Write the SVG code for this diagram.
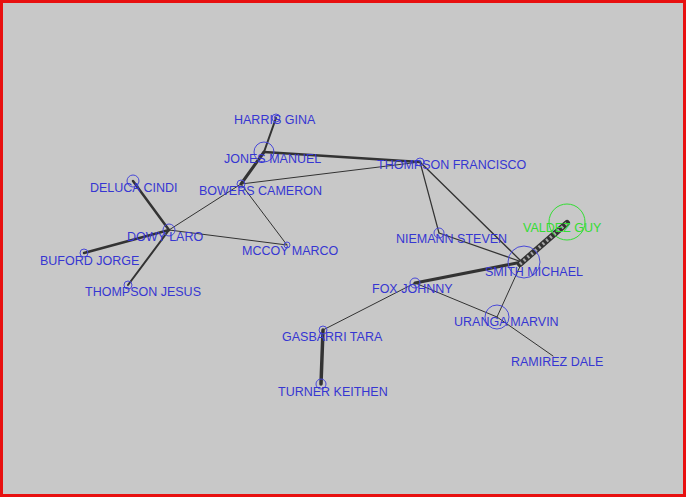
<svg xmlns="http://www.w3.org/2000/svg" width="686" height="497" viewBox="0 0 686 497">
<style>
.lbl{font-family:"Liberation Sans",Arial,sans-serif;font-size:12.5px;fill:#3636d2}
.g{fill:#33dd33}
.nd{fill:none;stroke:#4848d8;stroke-width:1}
.e{stroke:#333;fill:none;stroke-linecap:round}
</style>
<rect x="1.5" y="1.5" width="683" height="494" fill="#c8c8c8" stroke="#e81010" stroke-width="3"/>
<g id="connectors">
<line class="e" x1="276" y1="118" x2="264" y2="152" stroke-width="2"/>
<line class="e" x1="264" y1="152" x2="420" y2="162" stroke-width="2.5"/>
<line class="e" x1="264" y1="152" x2="241" y2="184" stroke-width="3"/>
<line class="e" x1="241" y1="184" x2="169" y2="230" stroke-width="1"/>
<line class="e" x1="241" y1="184" x2="420" y2="162" stroke-width="1"/>
<line class="e" x1="241" y1="184" x2="287" y2="245" stroke-width="1"/>
<line class="e" x1="169" y1="230" x2="287" y2="245" stroke-width="1"/>
<line class="e" x1="133" y1="181" x2="169" y2="230" stroke-width="2.5"/>
<line class="e" x1="84" y1="253" x2="169" y2="230" stroke-width="2.5"/>
<line class="e" x1="128" y1="285" x2="169" y2="230" stroke-width="2"/>
<line class="e" x1="420" y1="162" x2="439" y2="233" stroke-width="1.2"/>
<line class="e" x1="420" y1="162" x2="522" y2="262" stroke-width="1.3"/>
<line class="e" x1="439" y1="233" x2="522" y2="262" stroke-width="1.3"/>
<line class="e" x1="415" y1="283" x2="522" y2="262" stroke-width="3"/>
<line class="e" x1="522" y1="262" x2="497" y2="317" stroke-width="1"/>
<line class="e" x1="415" y1="283" x2="497" y2="317" stroke-width="1"/>
<line class="e" x1="497" y1="317" x2="553" y2="356" stroke-width="1"/>
<line class="e" x1="415" y1="283" x2="323" y2="330" stroke-width="1"/>
<line class="e" x1="323" y1="330" x2="321" y2="384" stroke-width="3.5"/>
<line class="e" x1="520" y1="264" x2="567" y2="223" stroke-width="6"/>
<line x1="520" y1="264" x2="567" y2="223" stroke="#a8a8a8" stroke-width="3.5" stroke-dasharray="2 3"/>
</g>
<g id="harris"><circle class="nd" cx="276" cy="118" r="4"/><text class="lbl" x="234" y="123.5">HARRIS GINA</text></g>
<g id="jones"><circle class="nd" cx="264" cy="152" r="10"/><text class="lbl" x="224" y="162.5">JONES MANUEL</text></g>
<g id="bowers"><circle class="nd" cx="241" cy="184" r="4"/><text class="lbl" x="199" y="194.5">BOWERS CAMERON</text></g>
<g id="deluca"><circle class="nd" cx="133" cy="181" r="6"/><text class="lbl" x="90" y="191.5">DELUCA CINDI</text></g>
<g id="dowlaro"><circle class="nd" cx="169" cy="230" r="6"/><text class="lbl" x="127" y="240.5">DOWY LARO</text></g>
<g id="buford"><circle class="nd" cx="84" cy="253" r="4"/><text class="lbl" x="40" y="264.5">BUFORD JORGE</text></g>
<g id="thompsonj"><circle class="nd" cx="128" cy="285" r="4"/><text class="lbl" x="85" y="295.5">THOMPSON JESUS</text></g>
<g id="mccoy"><circle class="nd" cx="287" cy="245" r="3"/><text class="lbl" x="242" y="254.5">MCCOY MARCO</text></g>
<g id="thompsonf"><circle class="nd" cx="420" cy="162" r="4"/><text class="lbl" x="377" y="168.5">THOMPSON FRANCISCO</text></g>
<g id="niemann"><circle class="nd" cx="439" cy="233" r="5"/><text class="lbl" x="396" y="242.5">NIEMANN STEVEN</text></g>
<g id="valdez"><circle cx="567" cy="222" r="18" fill="none" stroke="#33dd33" stroke-width="1"/><text class="lbl g" x="523" y="231.5">VALDEZ GUY</text></g>
<g id="smith"><circle class="nd" cx="524" cy="262" r="16"/><text class="lbl" x="485" y="275.5">SMITH MICHAEL</text></g>
<g id="fox"><circle class="nd" cx="415" cy="283" r="5"/><text class="lbl" x="372" y="292.5">FOX JOHNNY</text></g>
<g id="uranga"><circle class="nd" cx="497" cy="317" r="12"/><text class="lbl" x="454" y="325.5">URANGA MARVIN</text></g>
<g id="ramirez"><text class="lbl" x="511" y="365.5">RAMIREZ DALE</text></g>
<g id="gasbarri"><circle class="nd" cx="323" cy="330" r="4"/><text class="lbl" x="282" y="340.5">GASBARRI TARA</text></g>
<g id="turner"><circle class="nd" cx="321" cy="384" r="5"/><text class="lbl" x="278" y="395.5">TURNER KEITHEN</text></g>
</svg>
